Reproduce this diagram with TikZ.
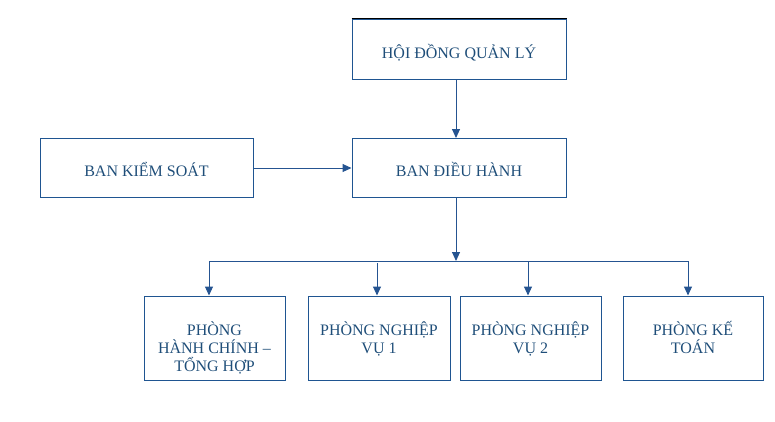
\documentclass[tikz,border=0pt]{standalone}
\usepackage{fontspec}
\setmainfont{Liberation Serif}
\usetikzlibrary{arrows.meta}
\definecolor{boxc}{RGB}{31,85,145}
\definecolor{txtc}{RGB}{31,78,121}
\definecolor{linec}{RGB}{37,84,145}
\begin{document}
\begin{tikzpicture}[x=1pt,y=-1pt,
  box/.style={draw=boxc,line width=1pt,minimum width=#1,inner sep=0pt},
  lbl/.style={align=center,text=txtc,font=\fontsize{16}{18}\selectfont,inner sep=0pt,anchor=north},
  conn/.style={draw=linec,line width=1pt,-{Triangle[length=9pt,width=8pt]}},
  plain/.style={draw=linec,line width=1pt}]
\useasboundingbox (0,0) rectangle (775,421);
\newcommand\fs{\rule{0pt}{16pt}}
\node[box=214pt,minimum height=60pt] (hd) at (459,49) {};
\node[box=214pt,minimum height=59pt] (dh) at (459,168) {};
\node[box=213pt,minimum height=59pt] (ks) at (146.5,168) {};
\node[box=141pt,minimum height=84pt] (p1) at (214.5,338) {};
\node[box=142pt,minimum height=84pt] (p2) at (379,338) {};
\node[box=141pt,minimum height=84pt] (p3) at (530.5,338) {};
\node[box=140pt,minimum height=84pt] (p4) at (693,338) {};
\draw[black,line width=1pt] (hd.north west) -- (hd.north east);
\node[lbl] (thd) at (459,58-16) {\fs HỘI ĐỒNG QUẢN LÝ};
\node[lbl] (tdh) at (459,176-16) {\fs BAN ĐIỀU HÀNH};
\node[lbl] (tks) at (146.5,176-16) {\fs BAN KIỂM SOÁT};
\node[lbl] (tp1) at (214.5,335-16) {\fs PHÒNG\\HÀNH CHÍNH –\\TỔNG HỢP};
\node[lbl] (tp2) at (379,335-16) {\fs PHÒNG NGHIỆP\\VỤ 1};
\node[lbl] (tp3) at (530.5,335-16) {\fs PHÒNG NGHIỆP\\VỤ 2};
\node[lbl] (tp4) at (693,335-16) {\fs PHÒNG KẾ\\TOÁN};
\coordinate (hub) at (456,261);
\coordinate (hl) at (209,261);
\coordinate (hr) at (688,261);
\draw[conn] (hd.south -| hub) -- (dh.north -| hub);
\draw[conn] (ks.east) -- (dh.west);
\draw[conn] (dh.south -| hub) -- (hub);
\draw[plain] (hl) -- (hr);
\draw[conn] (hl) -- (p1.north -| hl);
\draw[conn] (377,263) -- (p2.north -| 377,0);
\draw[conn] (528,261) -- (p3.north -| 528,0);
\draw[conn] (hr) -- (p4.north -| hr);
\end{tikzpicture}
\end{document}
